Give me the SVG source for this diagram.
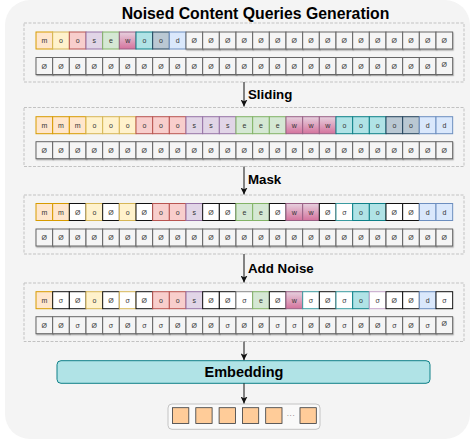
<svg xmlns="http://www.w3.org/2000/svg" xmlns:xlink="http://www.w3.org/1999/xlink" width="476" height="440" viewBox="0 0 476 440">
<style>
.bg{fill:#f4f4f4}
.pnl{fill:none;stroke:#c2c2c2;stroke-width:1;stroke-dasharray:3 1.5}
.tx text{font-family:"Liberation Sans",Arial,Helvetica,sans-serif;font-size:7px;fill:#333;text-anchor:middle}
.hd{font-family:"Liberation Sans",Arial,Helvetica,sans-serif;font-weight:bold;fill:#000}
.m{fill:#ffe6cc;stroke:#d79b00}
.y{fill:#fff2cc;stroke:#d6b656}
.r{fill:#f8cecc;stroke:#b85450}
.p{fill:#e1d5e7;stroke:#9673a6}
.g{fill:#d5e8d4;stroke:#82b366}
.w{fill:url(#wg);stroke:#996185}
.t{fill:#b0e3e6;stroke:#0e8088}
.b{fill:#bac8d3;stroke:#23445d}
.d{fill:#dae8fc;stroke:#6c8ebf}
.z{fill:#f5f5f5;stroke:#666;filter:url(#sh)}
.k{fill:#fff;stroke:#111}
.ny{fill:#fff;stroke:#d6b656}
.nt{fill:#fff;stroke:#3a9a9f}
.ng{fill:#fff;stroke:#888}
.np{fill:#fff;stroke:#c3a3c9}
.conn line{stroke:#111;stroke-width:1;marker-end:url(#ah)}
.sq{fill:#ffcc99;stroke:#36393d;stroke-width:0.8}
</style>
<defs>
<linearGradient id="wg" x1="0" y1="0" x2="0" y2="1"><stop offset="0" stop-color="#e6d0de"/><stop offset="1" stop-color="#d5739d"/></linearGradient>
<rect id="c" width="16.67" height="17"/>
<filter id="sh" x="-20%" y="-20%" width="150%" height="160%"><feDropShadow dx="0.6" dy="1.2" stdDeviation="0.4" flood-color="#000" flood-opacity="0.3"/></filter>
<marker id="ah" viewBox="0 0 10 10" refX="10" refY="5" markerWidth="7" markerHeight="7" markerUnits="userSpaceOnUse" orient="auto"><path d="M0,0 L10,5 L0,10 L2.5,5 z" fill="#111"/></marker>
</defs>
<rect class="bg" x="5" y="0" width="465" height="439" rx="25"/>
<g id="title"><text class="hd" x="255.5" y="18.5" font-size="15.8" text-anchor="middle">Noised Content Queries Generation</text></g>

<g id="panel-input">
<rect class="pnl" x="24" y="23" width="440" height="59"/>
<g class="tx" transform="translate(0,32)">
<use href="#c" x="36" class="m"/><use href="#c" x="52.67" class="y"/><use href="#c" x="69.33" class="r"/><use href="#c" x="86" class="p"/><use href="#c" x="102.67" class="g"/><use href="#c" x="119.33" class="w"/><use href="#c" x="136" class="t"/><use href="#c" x="152.67" class="b"/><use href="#c" x="169.33" class="d"/><use href="#c" x="186" class="z"/><use href="#c" x="202.67" class="z"/><use href="#c" x="219.33" class="z"/><use href="#c" x="236" class="z"/><use href="#c" x="252.67" class="z"/><use href="#c" x="269.33" class="z"/><use href="#c" x="286" class="z"/><use href="#c" x="302.67" class="z"/><use href="#c" x="319.33" class="z"/><use href="#c" x="336" class="z"/><use href="#c" x="352.67" class="z"/><use href="#c" x="369.33" class="z"/><use href="#c" x="386" class="z"/><use href="#c" x="402.67" class="z"/><use href="#c" x="419.33" class="z"/><use href="#c" x="436" class="z"/>
<text x="44.33" y="11">m</text><text x="61" y="11">o</text><text x="77.67" y="11">o</text><text x="94.33" y="11">s</text><text x="111" y="11">e</text><text x="127.67" y="11">w</text><text x="144.33" y="11">o</text><text x="161" y="11">o</text><text x="177.67" y="11">d</text><text x="194.33" y="11">Ø</text><text x="211" y="11">Ø</text><text x="227.67" y="11">Ø</text><text x="244.33" y="11">Ø</text><text x="261" y="11">Ø</text><text x="277.67" y="11">Ø</text><text x="294.33" y="11">Ø</text><text x="311" y="11">Ø</text><text x="327.67" y="11">Ø</text><text x="344.33" y="11">Ø</text><text x="361" y="11">Ø</text><text x="377.67" y="11">Ø</text><text x="394.33" y="11">Ø</text><text x="411" y="11">Ø</text><text x="427.67" y="11">Ø</text><text x="444.33" y="11">Ø</text>
</g>
<g class="tx" transform="translate(0,57.5)">
<use href="#c" x="36" class="z"/><use href="#c" x="52.67" class="z"/><use href="#c" x="69.33" class="z"/><use href="#c" x="86" class="z"/><use href="#c" x="102.67" class="z"/><use href="#c" x="119.33" class="z"/><use href="#c" x="136" class="z"/><use href="#c" x="152.67" class="z"/><use href="#c" x="169.33" class="z"/><use href="#c" x="186" class="z"/><use href="#c" x="202.67" class="z"/><use href="#c" x="219.33" class="z"/><use href="#c" x="236" class="z"/><use href="#c" x="252.67" class="z"/><use href="#c" x="269.33" class="z"/><use href="#c" x="286" class="z"/><use href="#c" x="302.67" class="z"/><use href="#c" x="319.33" class="z"/><use href="#c" x="336" class="z"/><use href="#c" x="352.67" class="z"/><use href="#c" x="369.33" class="z"/><use href="#c" x="386" class="z"/><use href="#c" x="402.67" class="z"/><use href="#c" x="419.33" class="z"/><use href="#c" x="436" class="z"/>
<text x="44.33" y="11">Ø</text><text x="61" y="11">Ø</text><text x="77.67" y="11">Ø</text><text x="94.33" y="11">Ø</text><text x="111" y="11">Ø</text><text x="127.67" y="11">Ø</text><text x="144.33" y="11">Ø</text><text x="161" y="11">Ø</text><text x="177.67" y="11">Ø</text><text x="194.33" y="11">Ø</text><text x="211" y="11">Ø</text><text x="227.67" y="11">Ø</text><text x="244.33" y="11">Ø</text><text x="261" y="11">Ø</text><text x="277.67" y="11">Ø</text><text x="294.33" y="11">Ø</text><text x="311" y="11">Ø</text><text x="327.67" y="11">Ø</text><text x="344.33" y="11">Ø</text><text x="361" y="11">Ø</text><text x="377.67" y="11">Ø</text><text x="394.33" y="11">Ø</text><text x="411" y="11">Ø</text><text x="427.67" y="11">Ø</text><text x="444.33" y="9">Ø</text>
</g>
</g>

<g id="panel-sliding">
<rect class="pnl" x="24" y="107.5" width="440" height="59"/>
<g class="tx" transform="translate(0,116.7)">
<use href="#c" x="36" class="m"/><use href="#c" x="52.67" class="m"/><use href="#c" x="69.33" class="m"/><use href="#c" x="86" class="y"/><use href="#c" x="102.67" class="y"/><use href="#c" x="119.33" class="y"/><use href="#c" x="136" class="r"/><use href="#c" x="152.67" class="r"/><use href="#c" x="169.33" class="r"/><use href="#c" x="186" class="p"/><use href="#c" x="202.67" class="p"/><use href="#c" x="219.33" class="p"/><use href="#c" x="236" class="g"/><use href="#c" x="252.67" class="g"/><use href="#c" x="269.33" class="g"/><use href="#c" x="286" class="w"/><use href="#c" x="302.67" class="w"/><use href="#c" x="319.33" class="w"/><use href="#c" x="336" class="t"/><use href="#c" x="352.67" class="t"/><use href="#c" x="369.33" class="t"/><use href="#c" x="386" class="b"/><use href="#c" x="402.67" class="b"/><use href="#c" x="419.33" class="d"/><use href="#c" x="436" class="d"/>
<text x="44.33" y="11">m</text><text x="61" y="11">m</text><text x="77.67" y="11">m</text><text x="94.33" y="11">o</text><text x="111" y="11">o</text><text x="127.67" y="11">o</text><text x="144.33" y="11">o</text><text x="161" y="11">o</text><text x="177.67" y="11">o</text><text x="194.33" y="11">s</text><text x="211" y="11">s</text><text x="227.67" y="11">s</text><text x="244.33" y="11">e</text><text x="261" y="11">e</text><text x="277.67" y="11">e</text><text x="294.33" y="11">w</text><text x="311" y="11">w</text><text x="327.67" y="11">w</text><text x="344.33" y="11">o</text><text x="361" y="11">o</text><text x="377.67" y="11">o</text><text x="394.33" y="11">o</text><text x="411" y="11">o</text><text x="427.67" y="11">d</text><text x="444.33" y="11">d</text>
</g>
<g class="tx" transform="translate(0,141.7)">
<use href="#c" x="36" class="z"/><use href="#c" x="52.67" class="z"/><use href="#c" x="69.33" class="z"/><use href="#c" x="86" class="z"/><use href="#c" x="102.67" class="z"/><use href="#c" x="119.33" class="z"/><use href="#c" x="136" class="z"/><use href="#c" x="152.67" class="z"/><use href="#c" x="169.33" class="z"/><use href="#c" x="186" class="z"/><use href="#c" x="202.67" class="z"/><use href="#c" x="219.33" class="z"/><use href="#c" x="236" class="z"/><use href="#c" x="252.67" class="z"/><use href="#c" x="269.33" class="z"/><use href="#c" x="286" class="z"/><use href="#c" x="302.67" class="z"/><use href="#c" x="319.33" class="z"/><use href="#c" x="336" class="z"/><use href="#c" x="352.67" class="z"/><use href="#c" x="369.33" class="z"/><use href="#c" x="386" class="z"/><use href="#c" x="402.67" class="z"/><use href="#c" x="419.33" class="z"/><use href="#c" x="436" class="z"/>
<text x="44.33" y="11">Ø</text><text x="61" y="11">Ø</text><text x="77.67" y="11">Ø</text><text x="94.33" y="11">Ø</text><text x="111" y="11">Ø</text><text x="127.67" y="11">Ø</text><text x="144.33" y="11">Ø</text><text x="161" y="11">Ø</text><text x="177.67" y="11">Ø</text><text x="194.33" y="11">Ø</text><text x="211" y="11">Ø</text><text x="227.67" y="11">Ø</text><text x="244.33" y="11">Ø</text><text x="261" y="11">Ø</text><text x="277.67" y="11">Ø</text><text x="294.33" y="11">Ø</text><text x="311" y="11">Ø</text><text x="327.67" y="11">Ø</text><text x="344.33" y="11">Ø</text><text x="361" y="11">Ø</text><text x="377.67" y="11">Ø</text><text x="394.33" y="11">Ø</text><text x="411" y="11">Ø</text><text x="427.67" y="11">Ø</text><text x="444.33" y="11">Ø</text>
</g>
</g>

<g id="panel-mask">
<rect class="pnl" x="24" y="195" width="440" height="59"/>
<g class="tx" transform="translate(0,203.5)">
<use href="#c" x="36" class="m"/><use href="#c" x="52.67" class="m"/><use href="#c" x="69.33" class="k"/><use href="#c" x="86" class="y"/><use href="#c" x="102.67" class="k"/><use href="#c" x="119.33" class="y"/><use href="#c" x="136" class="k"/><use href="#c" x="152.67" class="r"/><use href="#c" x="169.33" class="r"/><use href="#c" x="186" class="p"/><use href="#c" x="202.67" class="k"/><use href="#c" x="219.33" class="k"/><use href="#c" x="236" class="g"/><use href="#c" x="252.67" class="g"/><use href="#c" x="269.33" class="k"/><use href="#c" x="286" class="w"/><use href="#c" x="302.67" class="w"/><use href="#c" x="319.33" class="k"/><use href="#c" x="336" class="nt"/><use href="#c" x="352.67" class="t"/><use href="#c" x="369.33" class="t"/><use href="#c" x="386" class="k"/><use href="#c" x="402.67" class="k"/><use href="#c" x="419.33" class="d"/><use href="#c" x="436" class="d"/>
<text x="44.33" y="11">m</text><text x="61" y="11">m</text><text x="77.67" y="11">Ø</text><text x="94.33" y="11">o</text><text x="111" y="11">Ø</text><text x="127.67" y="11">o</text><text x="144.33" y="11">Ø</text><text x="161" y="11">o</text><text x="177.67" y="11">o</text><text x="194.33" y="11">s</text><text x="211" y="11">Ø</text><text x="227.67" y="11">Ø</text><text x="244.33" y="11">e</text><text x="261" y="11">e</text><text x="277.67" y="11">Ø</text><text x="294.33" y="11">w</text><text x="311" y="11">w</text><text x="327.67" y="11">Ø</text><text x="344.33" y="11">σ</text><text x="361" y="11">o</text><text x="377.67" y="11">o</text><text x="394.33" y="11">Ø</text><text x="411" y="11">Ø</text><text x="427.67" y="11">d</text><text x="444.33" y="11">d</text>
</g>
<g class="tx" transform="translate(0,229)">
<use href="#c" x="36" class="z"/><use href="#c" x="52.67" class="z"/><use href="#c" x="69.33" class="z"/><use href="#c" x="86" class="z"/><use href="#c" x="102.67" class="z"/><use href="#c" x="119.33" class="z"/><use href="#c" x="136" class="z"/><use href="#c" x="152.67" class="z"/><use href="#c" x="169.33" class="z"/><use href="#c" x="186" class="z"/><use href="#c" x="202.67" class="z"/><use href="#c" x="219.33" class="z"/><use href="#c" x="236" class="z"/><use href="#c" x="252.67" class="z"/><use href="#c" x="269.33" class="z"/><use href="#c" x="286" class="z"/><use href="#c" x="302.67" class="z"/><use href="#c" x="319.33" class="z"/><use href="#c" x="336" class="z"/><use href="#c" x="352.67" class="z"/><use href="#c" x="369.33" class="z"/><use href="#c" x="386" class="z"/><use href="#c" x="402.67" class="z"/><use href="#c" x="419.33" class="z"/><use href="#c" x="436" class="z"/>
<text x="44.33" y="11">Ø</text><text x="61" y="11">Ø</text><text x="77.67" y="11">Ø</text><text x="94.33" y="11">Ø</text><text x="111" y="11">Ø</text><text x="127.67" y="11">Ø</text><text x="144.33" y="11">Ø</text><text x="161" y="11">Ø</text><text x="177.67" y="11">Ø</text><text x="194.33" y="11">Ø</text><text x="211" y="11">Ø</text><text x="227.67" y="11">Ø</text><text x="244.33" y="11">Ø</text><text x="261" y="11">Ø</text><text x="277.67" y="11">Ø</text><text x="294.33" y="11">Ø</text><text x="311" y="11">Ø</text><text x="327.67" y="11">Ø</text><text x="344.33" y="11">Ø</text><text x="361" y="11">Ø</text><text x="377.67" y="11">Ø</text><text x="394.33" y="11">Ø</text><text x="411" y="11">Ø</text><text x="427.67" y="11">Ø</text><text x="444.33" y="11">Ø</text>
</g>
</g>

<g id="panel-noise">
<rect class="pnl" x="24" y="283" width="440" height="58.5"/>
<g class="tx" transform="translate(0,291.7)">
<use href="#c" x="36" class="m"/><use href="#c" x="52.67" class="k"/><use href="#c" x="69.33" class="k"/><use href="#c" x="86" class="y"/><use href="#c" x="102.67" class="k"/><use href="#c" x="119.33" class="ny"/><use href="#c" x="136" class="k"/><use href="#c" x="152.67" class="r"/><use href="#c" x="169.33" class="r"/><use href="#c" x="186" class="p"/><use href="#c" x="202.67" class="k"/><use href="#c" x="219.33" class="k"/><use href="#c" x="236" class="ng"/><use href="#c" x="252.67" class="g"/><use href="#c" x="269.33" class="k"/><use href="#c" x="286" class="w"/><use href="#c" x="302.67" class="nt"/><use href="#c" x="319.33" class="k"/><use href="#c" x="336" class="nt"/><use href="#c" x="352.67" class="t"/><use href="#c" x="369.33" class="np"/><use href="#c" x="386" class="k"/><use href="#c" x="402.67" class="k"/><use href="#c" x="419.33" class="d"/><use href="#c" x="436" class="k"/>
<text x="44.33" y="11">m</text><text x="61" y="11">σ</text><text x="77.67" y="11">Ø</text><text x="94.33" y="11">o</text><text x="111" y="11">Ø</text><text x="127.67" y="11">σ</text><text x="144.33" y="11">Ø</text><text x="161" y="11">o</text><text x="177.67" y="11">o</text><text x="194.33" y="11">s</text><text x="211" y="11">Ø</text><text x="227.67" y="11">Ø</text><text x="244.33" y="11">σ</text><text x="261" y="11">e</text><text x="277.67" y="11">Ø</text><text x="294.33" y="11">w</text><text x="311" y="11">σ</text><text x="327.67" y="11">Ø</text><text x="344.33" y="11">σ</text><text x="361" y="11">o</text><text x="377.67" y="11">σ</text><text x="394.33" y="11">Ø</text><text x="411" y="11">Ø</text><text x="427.67" y="11">d</text><text x="444.33" y="11">σ</text>
</g>
<g class="tx" transform="translate(0,316.7)">
<use href="#c" x="36" class="z"/><use href="#c" x="52.67" class="z"/><use href="#c" x="69.33" class="z"/><use href="#c" x="86" class="z"/><use href="#c" x="102.67" class="z"/><use href="#c" x="119.33" class="z"/><use href="#c" x="136" class="z"/><use href="#c" x="152.67" class="z"/><use href="#c" x="169.33" class="z"/><use href="#c" x="186" class="z"/><use href="#c" x="202.67" class="z"/><use href="#c" x="219.33" class="z"/><use href="#c" x="236" class="z"/><use href="#c" x="252.67" class="z"/><use href="#c" x="269.33" class="z"/><use href="#c" x="286" class="z"/><use href="#c" x="302.67" class="z"/><use href="#c" x="319.33" class="z"/><use href="#c" x="336" class="z"/><use href="#c" x="352.67" class="z"/><use href="#c" x="369.33" class="z"/><use href="#c" x="386" class="z"/><use href="#c" x="402.67" class="z"/><use href="#c" x="419.33" class="z"/><use href="#c" x="436" class="z"/>
<text x="44.33" y="11">Ø</text><text x="61" y="11">Ø</text><text x="77.67" y="11">σ</text><text x="94.33" y="11">Ø</text><text x="111" y="11">σ</text><text x="127.67" y="11">Ø</text><text x="144.33" y="11">σ</text><text x="161" y="11">σ</text><text x="177.67" y="11">Ø</text><text x="194.33" y="11">Ø</text><text x="211" y="11">Ø</text><text x="227.67" y="11">σ</text><text x="244.33" y="11">Ø</text><text x="261" y="11">Ø</text><text x="277.67" y="11">σ</text><text x="294.33" y="11">σ</text><text x="311" y="11">Ø</text><text x="327.67" y="11">Ø</text><text x="344.33" y="11">σ</text><text x="361" y="11">Ø</text><text x="377.67" y="11">Ø</text><text x="394.33" y="11">σ</text><text x="411" y="11">Ø</text><text x="427.67" y="11">σ</text><text x="444.33" y="9">Ø</text>
</g>
</g>

<g id="embedding">
<rect x="57" y="360.7" width="373" height="22.6" rx="4" fill="#b0e3e6" stroke="#0e8088"/>
<text class="hd" x="244" y="376.5" font-size="14.5" text-anchor="middle">Embedding</text>
</g>

<g id="output">
<rect x="168" y="404" width="152" height="25.3" rx="4" fill="#f9f9f9" stroke="#c4c4c4"/>
<rect class="sq" x="172.5" y="407.7" width="16.3" height="15.7"/>
<rect class="sq" x="195.8" y="407.7" width="16.3" height="15.7"/>
<rect class="sq" x="219.1" y="407.7" width="16.3" height="15.7"/>
<rect class="sq" x="242.4" y="407.7" width="16.3" height="15.7"/>
<rect class="sq" x="265.7" y="407.7" width="16.3" height="15.7"/>
<text x="291" y="415.5" font-family="Liberation Sans, Arial, sans-serif" font-size="8" letter-spacing="0.6" fill="#777" text-anchor="middle">...</text>
<rect class="sq" x="300" y="407.7" width="16.3" height="15.7"/>
</g>

<g id="labels">
<text class="hd" x="248" y="99" font-size="13.3">Sliding</text>
<text class="hd" x="248" y="184" font-size="13.3">Mask</text>
<text class="hd" x="248" y="272.7" font-size="13.3">Add Noise</text>
</g>

<g id="connectors" class="conn">
<line x1="244" y1="82" x2="244" y2="106.5"/>
<line x1="244" y1="166.5" x2="244" y2="194.5"/>
<line x1="244" y1="254" x2="244" y2="282.5"/>
<line x1="244" y1="341.5" x2="244" y2="360.2"/>
<line x1="244" y1="383.3" x2="244" y2="403.5"/>
</g>
</svg>
